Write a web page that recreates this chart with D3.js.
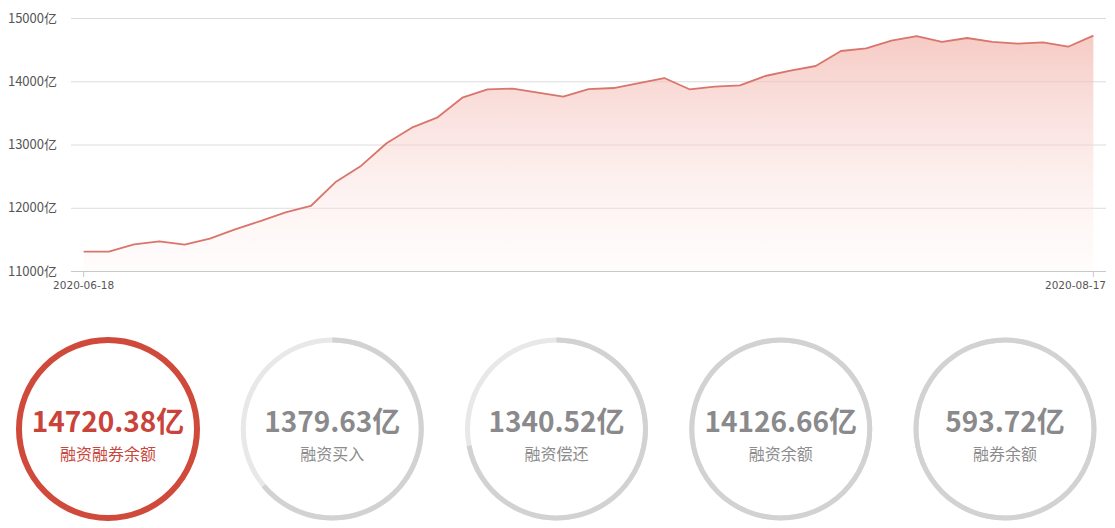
<!DOCTYPE html>
<html>
<head>
<meta charset="utf-8">
<script src="https://cdn.jsdelivr.net/npm/d3@7"></script>
<style>
  body { margin: 0; background: #fff; }
  svg { display: block; font-family: "Microsoft YaHei", "Noto Sans CJK SC", sans-serif; }
</style>
</head>
<body>
<svg id="chart" width="1115" height="528"></svg>
<script>
// margin balance series, 2020-06-18 .. 2020-08-17 (41 trading days)
const dates = [
  "2020-06-18","2020-06-19","2020-06-22","2020-06-23","2020-06-24","2020-06-29","2020-06-30",
  "2020-07-01","2020-07-02","2020-07-03","2020-07-06","2020-07-07","2020-07-08","2020-07-09",
  "2020-07-10","2020-07-13","2020-07-14","2020-07-15","2020-07-16","2020-07-17","2020-07-20",
  "2020-07-21","2020-07-22","2020-07-23","2020-07-24","2020-07-27","2020-07-28","2020-07-29",
  "2020-07-30","2020-07-31","2020-08-03","2020-08-04","2020-08-05","2020-08-06","2020-08-07",
  "2020-08-10","2020-08-11","2020-08-12","2020-08-13","2020-08-14","2020-08-17"
];
const balance = [
  11305, 11305, 11422, 11470, 11416, 11511, 11659, 11790, 11928, 12028,
  12412, 12665, 13019, 13266, 13424, 13740, 13873, 13883, 13819, 13756,
  13877, 13893, 13972, 14051, 13873, 13914, 13936, 14083, 14167, 14241,
  14478, 14521, 14642, 14715, 14621, 14684, 14621, 14594, 14616, 14546,
  14720.38
];
const yTicks = [11000, 12000, 13000, 14000, 15000];

// summary rings
const ringValues = ["14720.38亿", "1379.63亿", "1340.52亿", "14126.66亿", "593.72亿"];
const ringLabels = ["融资融券余额", "融资买入", "融资偿还", "融资余额", "融券余额"];
const ringShare = [1, 0.64, 0.72, 1, 1];

const svg = d3.select("#chart");
const plotL = 71, plotR = 1106, plotT = 18, plotB = 271;

const x = d3.scalePoint().domain(dates).range([plotL, plotR]).padding(0.5);
const y = d3.scaleLinear().domain([11000, 15000]).range([plotB, plotT]);

// gradient for area
const defs = svg.append("defs");
const grad = defs.append("linearGradient")
  .attr("id", "areaGrad").attr("x1", 0).attr("y1", 0).attr("x2", 0).attr("y2", 1);
grad.append("stop").attr("offset", "0%").attr("stop-color", "#f2b4ac").attr("stop-opacity", 0.7);
grad.append("stop").attr("offset", "100%").attr("stop-color", "#fdf0ee").attr("stop-opacity", 0.2);

// grid
svg.append("g").selectAll("line")
  .data(yTicks.slice(1))
  .join("line")
  .attr("x1", plotL).attr("x2", plotR)
  .attr("y1", d => y(d) + 0.5).attr("y2", d => y(d) + 0.5)
  .attr("stroke", "#dcdcdc").attr("stroke-width", 1);

// y labels
svg.append("g").selectAll("text")
  .data(yTicks)
  .join("text")
  .attr("x", 57).attr("y", d => y(d) + 4.5)
  .attr("text-anchor", "end")
  .attr("font-size", 13)
  .attr("fill", "#555")
  .text(d => d + "亿");

// area + line
const pts = dates.map((d, i) => ({ d, v: balance[i] }));
svg.append("path")
  .datum(pts)
  .attr("fill", "url(#areaGrad)")
  .attr("d", d3.area().x(p => x(p.d)).y0(plotB).y1(p => y(p.v)));
svg.append("path")
  .datum(pts)
  .attr("fill", "none")
  .attr("stroke", "#d9756b")
  .attr("stroke-width", 1.8)
  .attr("stroke-linejoin", "round")
  .attr("d", d3.line().x(p => x(p.d)).y(p => y(p.v)));

// x axis
svg.append("line")
  .attr("x1", plotL).attr("x2", plotR)
  .attr("y1", plotB + 0.5).attr("y2", plotB + 0.5)
  .attr("stroke", "#c8c8c8");
const ends = [dates[0], dates[dates.length - 1]];
svg.append("g").selectAll("line")
  .data(ends)
  .join("line")
  .attr("x1", d => x(d)).attr("x2", d => x(d))
  .attr("y1", plotB).attr("y2", plotB + 6)
  .attr("stroke", "#c8c8c8");
svg.append("g").selectAll("text")
  .data(ends)
  .join("text")
  .attr("x", (d, i) => i === 0 ? x(d) : plotR)
  .attr("y", plotB + 18)
  .attr("text-anchor", (d, i) => i === 0 ? "middle" : "end")
  .attr("font-family", "DejaVu Sans, sans-serif")
  .attr("font-size", 10.5)
  .attr("fill", "#555")
  .text(d => d);

// rings
const cx = d3.scalePoint().domain(d3.range(ringValues.length)).range([108, 1005]);
const cy = 429, r = 89;
const arc = d3.arc().innerRadius(r - 2.5).outerRadius(r + 2.5);
const ring = svg.append("g").selectAll("g")
  .data(ringValues.map((v, i) => ({ v, label: ringLabels[i], share: ringShare[i], i })))
  .join("g")
  .attr("transform", d => `translate(${cx(d.i)},${cy})`);

ring.filter(d => d.i === 0).append("circle")
  .attr("r", r).attr("fill", "none")
  .attr("stroke", "#d04a3b").attr("stroke-width", 6);
ring.filter(d => d.i > 0).append("path")
  .attr("fill", "#e8e8e8")
  .attr("d", arc({ startAngle: 0, endAngle: 2 * Math.PI }));
ring.filter(d => d.i > 0).append("path")
  .attr("fill", "#d2d2d2")
  .attr("d", d => arc({ startAngle: 0, endAngle: 2 * Math.PI * d.share }));

ring.append("text")
  .attr("y", 3)
  .attr("text-anchor", "middle")
  .attr("font-size", 28)
  .attr("font-weight", "bold")
  .attr("fill", d => d.i === 0 ? "#c9433a" : "#8a8a8c")
  .text(d => d.v);
ring.append("text")
  .attr("y", 31)
  .attr("text-anchor", "middle")
  .attr("font-size", 16)
  .attr("fill", d => d.i === 0 ? "#c9483d" : "#8c8c8c")
  .text(d => d.label);
</script>
</body>
</html>
